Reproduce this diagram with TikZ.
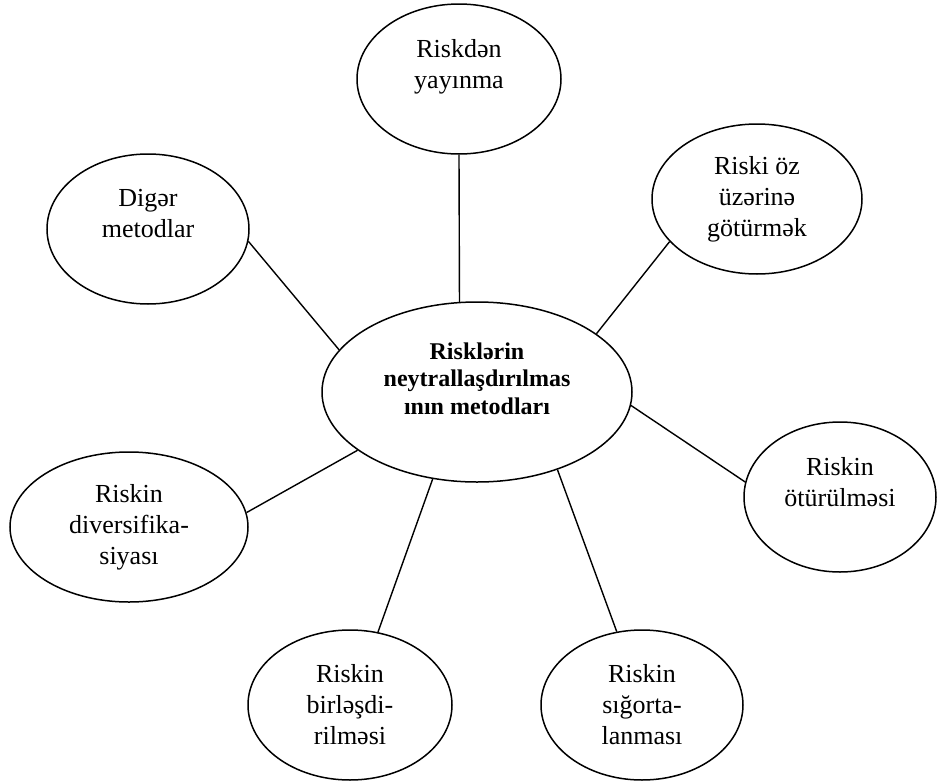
\documentclass[tikz,border=0pt]{standalone}
\usepackage{fontspec}
\setmainfont{Liberation Serif}
\usetikzlibrary{shapes.geometric}

\tikzset{
  oval/.style={
    ellipse, draw, line width=1.5pt, inner sep=0pt, align=center,
    minimum width=#1, minimum height=150pt,
    font=\fontsize{26}{31}\selectfont
  },
  hub/.style={
    ellipse, draw, line width=1.5pt, inner sep=0pt, align=center,
    minimum width=310pt, minimum height=180pt,
    font=\fontsize{24}{27.5}\selectfont\bfseries
  },
  link/.style={line width=1.4pt}
}

\begin{document}
\begin{tikzpicture}[x=1pt, y=-1pt]
    \useasboundingbox (0,0) rectangle (938,782);

    % Merkez
    \node[hub] (mid) at (477,392)
      {Risklərin\\neytrallaşdırılmas\\ının metodları\\\mbox{}};

    % Metodlar
    \node[oval=204pt] (avoid) at (459,79) {Riskdən\\yayınma\\\mbox{}};
    \node[oval=210pt] (retain) at (757,199) {Riski öz\\üzərinə\\götürmək};
    \node[oval=202pt] (other) at (148,229) {Digər\\metodlar\\\mbox{}};
    \node[oval=192pt] (transfer) at (840,497) {Riskin\\ötürülməsi\\\mbox{}};
    \node[oval=238pt] (divers) at (129,527) {Riskin\\diversifika-\\siyası};
    \node[oval=204pt] (pool) at (350,705) {Riskin\\birləşdi-\\rilməsi};
    \node[oval=202pt] (insure) at (642,705) {Riskin\\sığorta-\\lanması};

    % Xetler
    \draw[link] (avoid.south) -- (mid.101);
    \draw[link] (retain.206.8) -- (mid.26.9);
    \draw[link] (other.-7.5) -- (mid.163.2);
    \draw[link] (transfer.171.5) -- (mid.-5.9);
    \draw[link] (divers.7.2) -- (mid.206.4);
    \draw[link] (pool.69.7) -- (mid.243.4);
    \draw[link] (insure.109.6) -- (mid.-44.6);
  \end{tikzpicture}
\end{document}
